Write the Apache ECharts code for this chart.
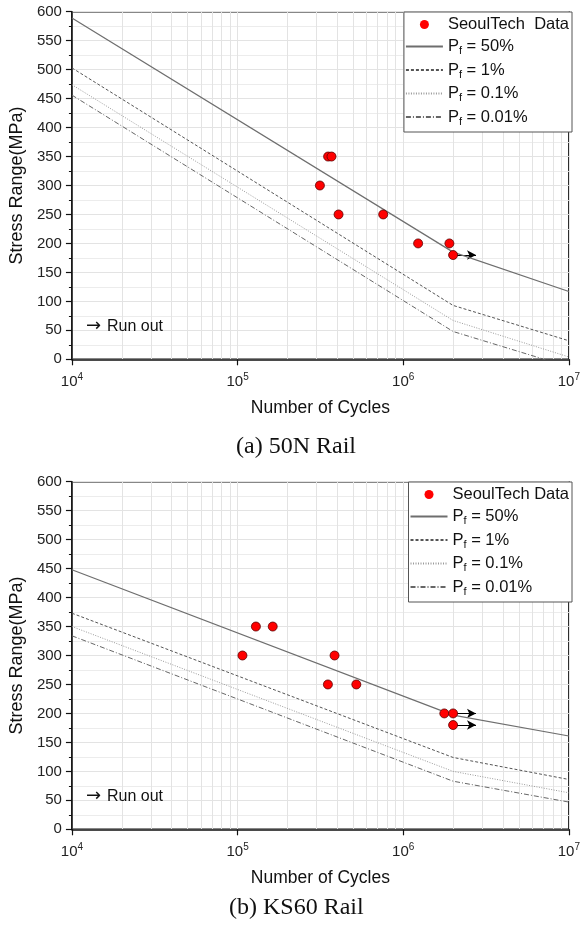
<!DOCTYPE html>
<html>
<head>
<meta charset="utf-8">
<script src="https://cdn.jsdelivr.net/npm/echarts@6/dist/echarts.min.js"></script>
<style>
  html, body { margin: 0; padding: 0; background: #fff; }
  #chart { width: 583px; height: 930px; }
</style>
</head>
<body>
<div id="chart"></div>
<script>
// S-N curves: knee at 2x10^6 cycles
var curveCycles = [1e4, 2e6, 1e7]
var curveNames = ['Pf = 50%', 'Pf = 1%', 'Pf = 0.1%', 'Pf = 0.01%']

// (a) 50N Rail
var railACycles = [3.14e5, 3.52e5, 3.69e5, 4.07e5, 7.57e5, 1.23e6, 1.9e6, 2.0e6]
var railAStress = [300, 350, 350, 250, 250, 200, 200, 180]
var railARunout = [[2.0e6, 180]]
var railAP50 = [589, 185, 117]
var railAP1 = [503, 93, 32]
var railAP01 = [474, 67, 4]
var railAP001 = [456, 48, -13]

// (b) KS60 Rail
var railBCycles = [1.07e5, 1.29e5, 1.63e5, 3.51e5, 3.85e5, 5.21e5, 1.77e6, 2.0e6, 2.0e6]
var railBStress = [300, 350, 350, 250, 300, 250, 200, 200, 180]
var railBRunout = [[2.0e6, 200], [2.0e6, 180]]
var railBP50 = [448, 197, 161]
var railBP1 = [373, 124, 86]
var railBP01 = [350, 100, 63]
var railBP001 = [334, 83, 47]

var runoutEnd = 2.75e6
var gridMultipliers = [2, 3, 4, 5, 6, 7, 8, 9]
var decades = [1e4, 1e5, 1e6]

var FONT = '"Liberation Sans", Arial, sans-serif'
var SERIF = '"Liberation Serif", "Times New Roman", serif'
var lineStyles = [
  {color: '#6e6e6e', width: 1.2, type: 'solid'},
  {color: '#555', width: 1, type: [3, 2]},
  {color: '#9a9a9a', width: 1, type: [1, 1.5]},
  {color: '#666', width: 1, type: [5, 2, 1, 2]}
]

var vGrid = []
decades.forEach(function (d) {
  gridMultipliers.forEach(function (m) { vGrid.push({xAxis: d * m}) })
})

function pairs (xs, ys) {
  return xs.map(function (x, i) { return [x, ys[i]] })
}

function xAxisFor (idx) {
  return {
    gridIndex: idx,
    type: 'log',
    logBase: 10,
    min: 1e4,
    max: 1e7,
    name: 'Number of Cycles',
    nameLocation: 'middle',
    nameGap: 40,
    nameTextStyle: {fontFamily: FONT, fontSize: 17.5, color: '#111'},
    axisLine: {lineStyle: {color: '#111', width: 1.5}},
    axisTick: {length: 6, lineStyle: {color: '#111', width: 1.2}},
    axisLabel: {
      margin: 13,
      fontFamily: FONT,
      fontSize: 15,
      color: '#222',
      formatter: function (v) {
        return '{b|10}{s|' + Math.round(Math.log10(v)) + '}'
      },
      rich: {
        b: {fontFamily: FONT, fontSize: 15, lineHeight: 20, color: '#222'},
        s: {fontFamily: FONT, fontSize: 10, lineHeight: 20, verticalAlign: 'top', color: '#222'}
      }
    },
    splitLine: {show: true, lineStyle: {color: '#e3e3e3', width: 1}}
  }
}

function yAxisFor (idx) {
  return {
    gridIndex: idx,
    type: 'value',
    min: 0,
    max: 600,
    interval: 50,
    name: 'Stress Range(MPa)',
    nameLocation: 'middle',
    nameGap: 41,
    nameTextStyle: {fontFamily: FONT, fontSize: 18, color: '#111'},
    axisLine: {show: true, lineStyle: {color: '#111', width: 1.5}},
    axisTick: {show: true, length: 6, lineStyle: {color: '#111', width: 1.2}},
    minorTick: {show: true, splitNumber: 2, length: 3, lineStyle: {color: '#111'}},
    axisLabel: {margin: 10, fontFamily: FONT, fontSize: 15, color: '#222'},
    splitLine: {show: true, lineStyle: {color: '#e3e3e3', width: 1}},
    minorSplitLine: {show: true, lineStyle: {color: '#ececec', width: 1}}
  }
}

function seriesFor (idx, dataName, cycles, stress, runout, curves) {
  var list = []
  // vertical minor gridlines of the log axis
  list.push({
    type: 'line',
    xAxisIndex: idx,
    yAxisIndex: idx,
    data: [],
    z: 0,
    silent: true,
    markLine: {
      z: 0,
      silent: true,
      symbol: 'none',
      animation: false,
      label: {show: false},
      lineStyle: {color: '#e3e3e3', width: 1, type: 'solid'},
      data: vGrid
    }
  })
  curves.forEach(function (vals, i) {
    list.push({
      name: curveNames[i],
      type: 'line',
      xAxisIndex: idx,
      yAxisIndex: idx,
      showSymbol: false,
      symbol: 'none',
      z: 2,
      lineStyle: lineStyles[i],
      itemStyle: {color: lineStyles[i].color, opacity: 0},
      data: pairs(curveCycles, vals)
    })
  })
  // run-out arrows
  list.push({
    type: 'scatter',
    xAxisIndex: idx,
    yAxisIndex: idx,
    data: [],
    z: 2,
    markLine: {
      z: 2,
      silent: true,
      symbol: ['none', 'arrow'],
      symbolSize: [7, 9],
      animation: false,
      label: {show: false},
      lineStyle: {color: '#000', width: 1, type: 'solid'},
      data: runout.map(function (p) {
        return [{coord: p}, {coord: [runoutEnd, p[1]]}]
      })
    }
  })
  list.push({
    name: dataName,
    type: 'scatter',
    xAxisIndex: idx,
    yAxisIndex: idx,
    symbolSize: 9,
    z: 3,
    itemStyle: {color: '#ff0000', borderColor: '#5a0000', borderWidth: 0.8, opacity: 1},
    data: pairs(cycles, stress)
  })
  return list
}

function legendFor (top, dataName) {
  var items = [{name: dataName, icon: 'circle', itemStyle: {borderWidth: 0, color: '#ff0000'}}]
  curveNames.forEach(function (n) {
    items.push({name: n, itemStyle: {opacity: 0}})
  })
  return {
    z: 10,
    orient: 'vertical',
    right: 11,
    top: top,
    padding: [4, 3, 5, 1],
    itemGap: 5,
    itemWidth: 37,
    itemHeight: 9,
    itemTextGap: 5,
    backgroundColor: '#fff',
    borderColor: '#555',
    borderWidth: 1,
    borderRadius: 0,
    selectedMode: false,
    data: items,
    formatter: function (n) {
      if (n.indexOf('Pf') === 0) return '{p|P}{s|f}{p|' + n.slice(2) + '}'
      return '{p|' + n + '}'
    },
    textStyle: {
      fontFamily: FONT,
      fontSize: 16.5,
      color: '#111',
      rich: {
        p: {fontFamily: FONT, fontSize: 16.5, lineHeight: 20, color: '#111'},
        s: {fontFamily: FONT, fontSize: 11, lineHeight: 20, verticalAlign: 'bottom', color: '#111'}
      }
    }
  }
}

var chart = echarts.init(document.getElementById('chart'))
chart.setOption({
  animation: false,
  backgroundColor: '#fff',
  grid: [
    {left: 66.7, right: 10.3, top: 11.7, height: 347.6, show: true, borderColor: '#111', borderWidth: 1.5, backgroundColor: 'transparent'},
    {left: 66.7, right: 10.3, top: 481.7, height: 347.6, show: true, borderColor: '#111', borderWidth: 1.5, backgroundColor: 'transparent'}
  ],
  xAxis: [xAxisFor(0), xAxisFor(1)],
  yAxis: [yAxisFor(0), yAxisFor(1)],
  legend: [legendFor(12, 'SeoulTech  Data'), legendFor(482, 'SeoulTech Data')],
  series: seriesFor(0, 'SeoulTech  Data', railACycles, railAStress, railARunout,
      [railAP50, railAP1, railAP01, railAP001])
    .concat(seriesFor(1, 'SeoulTech Data', railBCycles, railBStress, railBRunout,
      [railBP50, railBP1, railBP01, railBP001])),
  graphic: [
    {type: 'text', z: 10, left: 86, top: 317, style: {text: '→', font: '18px "DejaVu Sans", sans-serif', fill: '#111'}},
    {type: 'text', z: 10, left: 107, top: 319, style: {text: 'Run out', font: '16px ' + FONT, fill: '#111'}},
    {type: 'text', z: 10, left: 86, top: 787, style: {text: '→', font: '18px "DejaVu Sans", sans-serif', fill: '#111'}},
    {type: 'text', z: 10, left: 107, top: 789, style: {text: 'Run out', font: '16px ' + FONT, fill: '#111'}},
    {type: 'text', z: 10, left: 236, top: 435, style: {text: '(a) 50N Rail', font: '24px ' + SERIF, fill: '#111'}},
    {type: 'text', z: 10, left: 229, top: 896, style: {text: '(b) KS60 Rail', font: '24px ' + SERIF, fill: '#111'}}
  ]
})
</script>
</body>
</html>
